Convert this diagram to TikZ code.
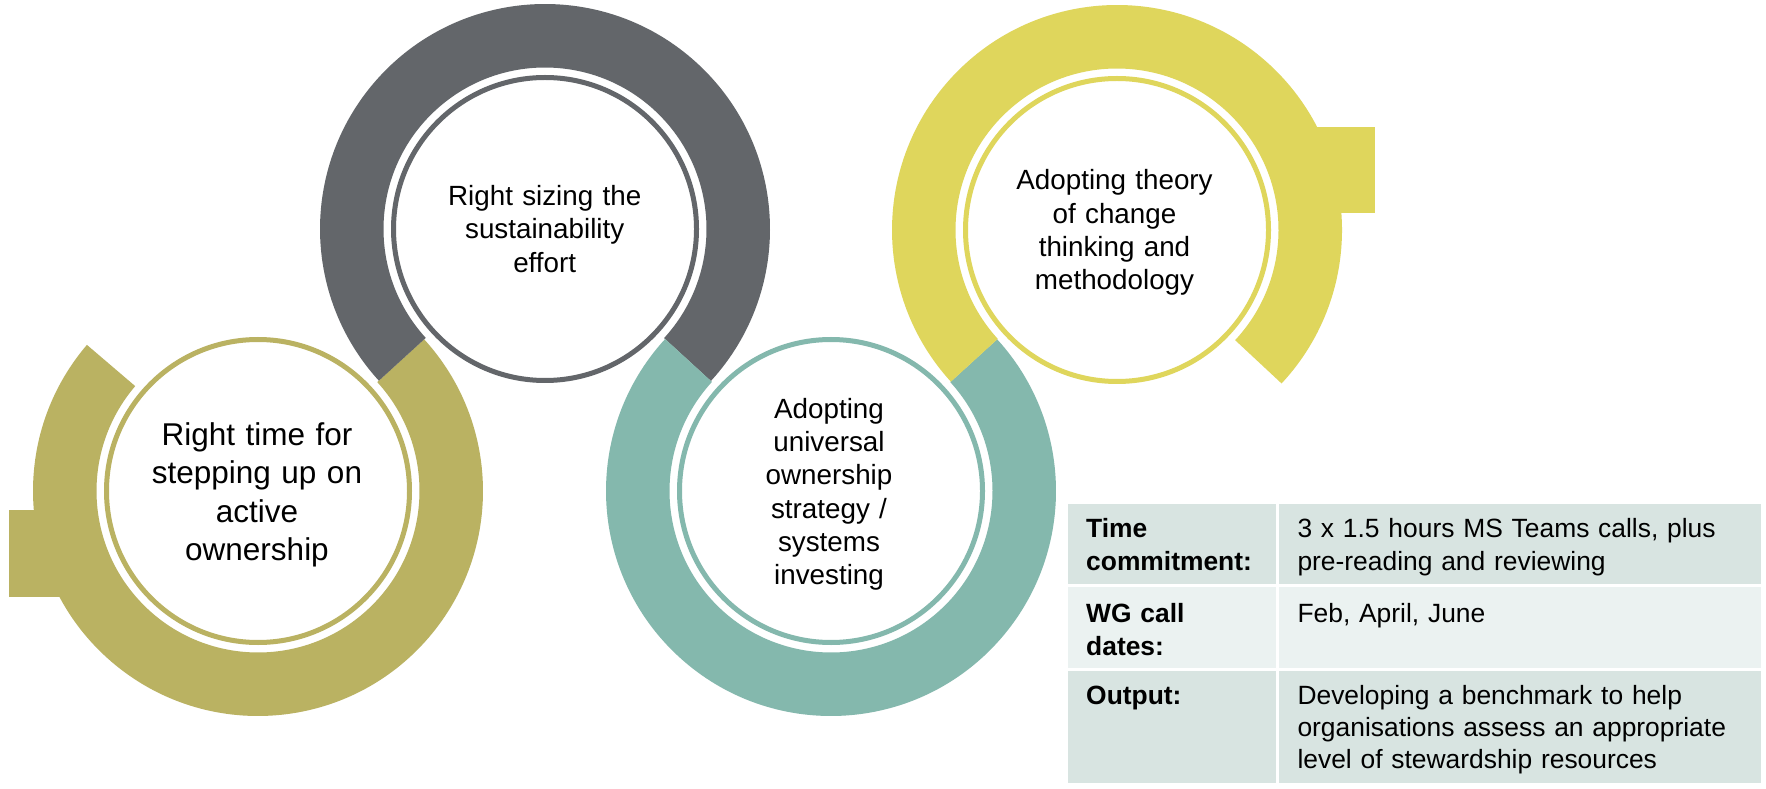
\documentclass[tikz,border=0pt]{standalone}
\usepackage{fontspec}
\setmainfont{Liberation Sans}
\usetikzlibrary{calc}
\definecolor{olivering}{HTML}{BAB262}
\definecolor{grayring}{HTML}{63666A}
\definecolor{tealring}{HTML}{84B8AD}
\definecolor{goldring}{HTML}{DFD65C}
\definecolor{rowdark}{HTML}{D8E4E1}
\definecolor{rowlight}{HTML}{EBF2F1}
\newcommand\ringsector[4]{%
  \fill[#4] ($(#1)+(#2:225)$) arc[start angle=#2, end angle=#3, radius=225]
    -- ($(#1)+(#3:161.5)$) arc[start angle=#3, end angle=#2, radius=161.5] -- cycle;}
\begin{document}
\begin{tikzpicture}[x=1pt,y=1pt,
  ringtext/.style={text width=250pt, align=center, inner sep=0pt, anchor=base,
    font=\fontsize{27.8}{33.3}\selectfont},
  outlinecircle/.style={circle, draw=#1, line width=5pt, minimum size=303pt, inner sep=0pt},
  celltext/.style={anchor=base west, inner sep=0pt, align=left, text width=#1,
    font=\fontsize{26.4}{32.3}\selectfont},
  cellhead/.style={celltext=185pt, font=\fontsize{26.4}{32.3}\selectfont\bfseries},
]
\useasboundingbox (0,0) rectangle (1766,788);
\fill[white] (0,0) rectangle (1766,788);

\coordinate (O1) at (258,297);
\coordinate (O2) at (545,559);
\coordinate (O3) at (831,297);
\coordinate (O4) at (1117,558);

% tabs
\fill[olivering] (9,191) rectangle (80,278);
\fill[goldring] (1295,575) rectangle (1375,661);

% rings
\ringsector{O1}{139.5}{402.4}{olivering}
\ringsector{O2}{-42.5}{222.4}{grayring}
\ringsector{O3}{137.5}{402.4}{tealring}
\ringsector{O4}{-43}{222.4}{goldring}

% outline circles
\node[outlinecircle=olivering] (c1) at (O1) {};
\node[outlinecircle=grayring] (c2) at (O2) {};
\node[outlinecircle=tealring] (c3) at (O3) {};
\node[outlinecircle=goldring] (c4) at (O4) {};

% circle texts
\node[ringtext, font=\fontsize{31.5}{38.3}\selectfont] (t1) at (257,342.3)
  {Right time for\\stepping up on\\active\\ownership};
\node[ringtext] (t2) at (544.7,582.3) {Right sizing the\\sustainability\\effort};
\node[ringtext] (t3) at (829,369.7)
  {Adopting\\universal\\ownership\\strategy /\\systems\\investing};
\node[ringtext] (t4) at (1114.5,598) {Adopting theory\\of change\\thinking and\\methodology};

% table cells
\fill[rowdark]  (1067.7,203.8) rectangle (1275.5,284);
\fill[rowdark]  (1278.5,203.8) rectangle (1761,284);
\fill[rowlight] (1067.7,120) rectangle (1275.5,200.8);
\fill[rowlight] (1278.5,120) rectangle (1761,200.8);
\fill[rowdark]  (1067.7,5.3) rectangle (1275.5,117);
\fill[rowdark]  (1278.5,5.3) rectangle (1761,117);

% table texts
\node[cellhead] (h1) at (1086,250.3) {Time\\commitment:};
\node[celltext=460pt] (v1) at (1297.3,250.3) {3 x 1.5 hours MS Teams calls, plus\\pre-reading and reviewing};
\node[cellhead] (h2) at (1086,165.3) {WG call\\dates:};
\node[celltext=460pt] (v2) at (1297.3,165.3) {Feb, April, June};
\node[cellhead] (h3) at (1086,83.7) {Output:};
\node[celltext=460pt] (v3) at (1297.3,83.7) {Developing a benchmark to help\\organisations assess an appropriate\\level of stewardship resources};
\end{tikzpicture}
\end{document}
